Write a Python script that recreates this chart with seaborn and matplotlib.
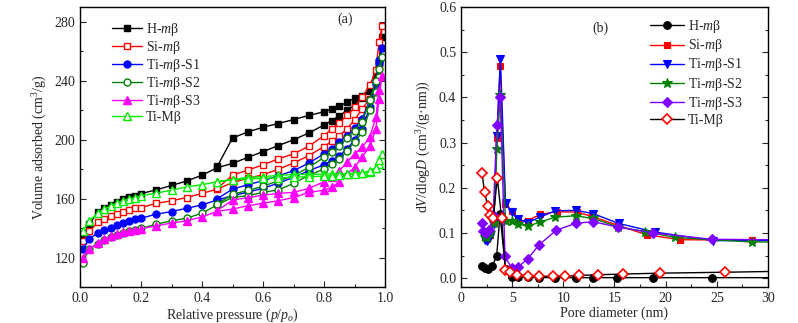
import numpy as np
import pandas as pd
import matplotlib
matplotlib.use("Agg")
import matplotlib.pyplot as plt
import seaborn as sns
from matplotlib.ticker import MultipleLocator

sns.set_style("ticks")
plt.rcParams['font.family'] = ['Liberation Serif', 'DejaVu Serif']
plt.rcParams['mathtext.fontset'] = 'custom'
plt.rcParams['mathtext.rm'] = 'Liberation Serif'
plt.rcParams['mathtext.it'] = 'Liberation Serif:italic'
plt.rcParams['mathtext.bf'] = 'Liberation Serif:bold'

# ---------------- Panel (a): N2 isotherms ----------------
p_ads = [0.01, 0.03, 0.06, 0.08, 0.10, 0.12, 0.14, 0.16, 0.18, 0.20, 0.25, 0.30, 0.35,
         0.40, 0.45, 0.50, 0.55, 0.60, 0.65, 0.70, 0.75, 0.80, 0.825, 0.85, 0.875, 0.90,
         0.925, 0.95, 0.97, 0.98, 0.99]
p_des = [0.98, 0.97, 0.95, 0.925, 0.90, 0.875, 0.85, 0.825, 0.80, 0.75, 0.70, 0.65,
         0.60, 0.55, 0.50, 0.45]

h_ads = [135, 143, 151, 154, 156, 158, 159.5, 161, 162, 163.5, 166, 169, 172, 176, 181,
         184, 188, 192, 196, 200, 204.6, 210, 213, 216.2, 219.9, 223.5, 228, 234, 243, 252, 270]
h_des = [252, 240, 233, 230, 228, 225.5, 222.6, 221, 219, 216.5, 213.7, 211, 208.5, 205.3,
         201.2, 182]

si_ads = [131, 138, 144, 146, 148, 149.5, 151, 152.2, 153.4, 154, 156.8, 158.6, 160.8, 163.6,
          166.5, 171, 173.8, 176.3, 180, 184.2, 189.2, 195.4, 199, 202.8, 207.4, 213.5, 221,
          227.8, 237.6, 249, 277]
si_des = [266, 247, 237, 229, 222, 216.5, 211.5, 207.4, 202.8, 195.6, 190.4, 187, 183,
          179.4, 176, 167]

s1_ads = [126, 132.8, 137, 138.7, 140.4, 142, 143.8, 145, 146, 146.8, 149.5, 151.3, 153.5,
          155.8, 159.2, 162, 164.5, 167, 170.6, 174.5, 179, 183, 185.8, 189.2, 193.8, 199.9,
          207.4, 222, 238, 254, 262]
s1_des = [252, 240, 226.7, 214.2, 207.8, 202.8, 198.3, 193.8, 190.4, 184.2, 179, 175.6,
          172.2, 169.5, 166.5, 160]

s2_ads = [116.6, 126, 129.6, 132, 133.8, 135.4, 136.8, 138.2, 138.7, 139.8, 142.7, 145,
          146.8, 150.2, 155.8, 161, 162, 164.3, 166, 170.4, 176, 180, 183.5, 187, 192.6,
          198.3, 205, 220, 232.3, 242.6, 256]
s2_des = [248, 240, 226.7, 212, 206.2, 201.2, 196, 191.5, 188, 181.3, 175.6, 172.2, 168.4,
          165.6, 163, 156.5]

s3_ads = [120, 126, 130, 132.7, 134.4, 136, 137.2, 138.3, 139, 139.6, 141.6, 143.5, 145,
          147.7, 151.4, 153, 155.2, 157, 158.6, 160.8, 164.3, 165.8, 167.7, 171.5, 176.7,
          181.3, 188, 196, 207, 227.8, 243]
s3_des = [233.5, 215.3, 201.7, 195, 190.4, 184.7, 179, 174.5, 171.5, 167, 164.3, 163.6,
          162.4, 160.8, 159, 152]

tm_ads = [138.2, 145, 150.6, 153, 155.2, 157, 158.6, 159.7, 160.8, 162, 163.8, 165.8, 168,
          169.5, 171.5, 172.9, 174.5, 175, 175.8, 176.5, 176.5, 176.7, 177, 177, 177, 177.2,
          177.5, 178, 181, 183.5, 190]
tm_des = [186, 181, 179, 177.5, 177, 176.5, 176, 175.6, 175.3, 175, 174.6, 174.2, 173.8,
          173.4, 173, 171.5]

iso_labels = ['H-$m$β', 'Si-$m$β', 'Ti-$m$β-S1', 'Ti-$m$β-S2', 'Ti-$m$β-S3', 'Ti-Mβ']
iso_ads = [h_ads, si_ads, s1_ads, s2_ads, s3_ads, tm_ads]
iso_des = [h_des, si_des, s1_des, s2_des, s3_des, tm_des]
iso_colors = ['#000000', '#ff0000', '#0000ff', '#008000', '#ff00ff', '#00ee00']
iso_markers = ['s', 's', 'o', 'o', '^', '^']
iso_filled = [True, False, True, False, True, False]

# ---------------- Panel (b): pore size distribution ----------------
d_h = [2.02, 2.35, 2.67, 3.06, 3.49, 3.81, 4.35, 4.95, 5.6, 6.5, 7.6, 9.19, 11.24, 12.93,
       15.2, 18.8, 24.5, 36.0]
v_h = [0.0275, 0.022, 0.021, 0.026, 0.05, 0.141, 0.02, 0.003, 0.002, 0.0015, 0.0012, 0.001,
       0.001, 0.001, 0.001, 0.001, 0.001, 0.001]

d_si = [2.3, 2.55, 2.85, 3.2, 3.5, 3.83, 4.33, 4.95, 5.6, 6.5, 7.72, 9.35, 11.3, 12.77,
        15.3, 18.15, 21.4, 28.4, 36.0]
v_si = [0.092, 0.087, 0.095, 0.125, 0.31, 0.47, 0.165, 0.148, 0.128, 0.127, 0.141, 0.147,
        0.146, 0.137, 0.117, 0.096, 0.085, 0.084, 0.083]

d_s1 = [2.3, 2.55, 2.85, 3.2, 3.5, 3.85, 4.35, 4.97, 5.6, 6.5, 7.72, 9.2, 11.2, 12.9,
        15.4, 18.96, 24.66, 36.0]
v_s1 = [0.085, 0.082, 0.092, 0.12, 0.315, 0.485, 0.166, 0.146, 0.13, 0.123, 0.135, 0.149,
        0.15, 0.143, 0.121, 0.102, 0.083, 0.083]

d_s2 = [2.3, 2.55, 2.85, 3.2, 3.5, 3.85, 4.35, 4.95, 5.6, 6.5, 7.72, 9.2, 11.2, 12.9,
        15.3, 18.0, 20.9, 28.4, 36.0]
v_s2 = [0.092, 0.09, 0.1, 0.122, 0.285, 0.405, 0.126, 0.126, 0.12, 0.115, 0.124, 0.135,
        0.138, 0.132, 0.114, 0.103, 0.09, 0.08, 0.08]

d_s3 = [2.02, 2.18, 2.44, 2.77, 3.15, 3.5, 3.83, 4.3, 4.95, 5.6, 6.5, 7.6, 9.3, 11.2, 12.9,
        15.3, 18.8, 24.5, 36.0]
v_s3 = [0.122, 0.104, 0.1, 0.107, 0.14, 0.338, 0.402, 0.048, 0.022, 0.025, 0.042, 0.073,
        0.106, 0.121, 0.125, 0.113, 0.1, 0.086, 0.084]

d_tm = [2.05, 2.3, 2.6, 2.85, 3.15, 3.55, 3.97, 4.33, 4.75, 5.5, 6.58, 7.6, 9.02, 10.16,
        11.56, 13.42, 15.86, 19.45, 25.8, 36.0]
v_tm = [0.233, 0.191, 0.16, 0.139, 0.133, 0.222, 0.132, 0.019, 0.013, 0.0075, 0.005, 0.004,
        0.004, 0.004, 0.006, 0.0075, 0.009, 0.011, 0.013, 0.017]

psd_labels = ['H-$m$β', 'Si-$m$β', 'Ti-$m$β-S1', 'Ti-$m$β-S2', 'Ti-$m$β-S3', 'Ti-Mβ']
psd_d = [d_h, d_si, d_s1, d_s2, d_s3, d_tm]
psd_v = [v_h, v_si, v_s1, v_s2, v_s3, v_tm]
psd_line = ['#000000', '#ff0000', '#0000ff', '#008000', '#8000ff', '#000000']
psd_mcol = ['#000000', '#ff0000', '#0000ff', '#008000', '#8000ff', '#ff0000']
psd_markers = ['o', 's', 'v', '*', 'D', 'D']
psd_filled = [True, True, True, True, True, False]

fig = plt.figure(figsize=(7.98, 3.23), dpi=100)
ax1 = fig.add_axes([0.1003, 0.111, 0.3822, 0.867])
ax2 = fig.add_axes([0.5777, 0.111, 0.3847, 0.867])

for lab, ads, des, c, m, f in zip(iso_labels, iso_ads, iso_des, iso_colors, iso_markers, iso_filled):
    df = pd.DataFrame({'p': p_ads + p_des, 'v': ads + des})
    sns.lineplot(data=df, x='p', y='v', ax=ax1, sort=False, estimator=None, color=c,
                 marker=m, markersize=5 if m != '^' else 5.5, markeredgewidth=1.0,
                 markerfacecolor=c if f else 'white', markeredgecolor=c, linewidth=1.0,
                 label=lab)

for lab, d, v, lc, mc, m, f in zip(psd_labels, psd_d, psd_v, psd_line, psd_mcol, psd_markers, psd_filled):
    df = pd.DataFrame({'d': d, 'v': v})
    ms = {'o': 5.5, 's': 5, 'v': 6, '*': 7, 'D': 5}[m]
    sns.lineplot(data=df, x='d', y='v', ax=ax2, sort=False, estimator=None, color=lc,
                 marker=m, markersize=ms, markeredgewidth=1.2 if not f else 0.8,
                 markerfacecolor=mc if f else 'white', markeredgecolor=mc, linewidth=1.0,
                 label=lab)

ax1.set_xlim(0, 1.0)
ax1.set_ylim(100, 290)
ax1.xaxis.set_major_locator(MultipleLocator(0.2))
ax1.xaxis.set_minor_locator(MultipleLocator(0.1))
ax1.yaxis.set_major_locator(MultipleLocator(40))
ax1.yaxis.set_minor_locator(MultipleLocator(20))
ax1.set_xticks([0, 0.2, 0.4, 0.6, 0.8, 1.0])
ax1.set_xticklabels(['0.0', '0.2', '0.4', '0.6', '0.8', '1.0'])
ax1.set_xlabel('Relative pressure ($p$/$p_o$)', fontsize=10, labelpad=1)
ax1.set_ylabel('Volume adsorbed (cm$^3$/g)', fontsize=10, labelpad=4)
ax1.text(0.87, 0.955, '(a)', transform=ax1.transAxes, fontsize=10, ha='center', va='center')

ax2.set_xlim(0, 30)
ax2.set_ylim(-0.02, 0.6)
ax2.xaxis.set_major_locator(MultipleLocator(5))
ax2.xaxis.set_minor_locator(MultipleLocator(2.5))
ax2.yaxis.set_major_locator(MultipleLocator(0.1))
ax2.yaxis.set_minor_locator(MultipleLocator(0.05))
ax2.set_yticks([0, 0.1, 0.2, 0.3, 0.4, 0.5, 0.6])
ax2.set_yticklabels(['0.0', '0.1', '0.2', '0.3', '0.4', '0.5', '0.6'])
ax2.set_xlabel('Pore diameter (nm)', fontsize=10, labelpad=1)
ax2.set_ylabel('d$V$/dlog$D$ (cm$^3$/(g·nm))', fontsize=10, labelpad=4)
ax2.text(0.455, 0.925, '(b)', transform=ax2.transAxes, fontsize=10, ha='center', va='center')

for ax in (ax1, ax2):
    for s in ax.spines.values():
        s.set_visible(True)
        s.set_linewidth(1.0)
        s.set_color('black')
    ax.tick_params(which='both', direction='in', right=True, top=False, labelsize=10)
    ax.tick_params(which='major', length=4, width=0.8)
    ax.tick_params(which='minor', length=2, width=0.8)

ax1.legend(loc='upper left', bbox_to_anchor=(0.095, 0.962), frameon=False, fontsize=10,
           handlelength=2.2, handletextpad=0.25, labelspacing=0.08, borderaxespad=0.0,
           borderpad=0.2)
ax2.legend(loc='upper left', bbox_to_anchor=(0.605, 0.97), frameon=False, fontsize=10,
           handlelength=2.5, handletextpad=0.25, labelspacing=0.15, borderaxespad=0.0,
           borderpad=0.2)

fig.savefig('out.png', dpi=100)
